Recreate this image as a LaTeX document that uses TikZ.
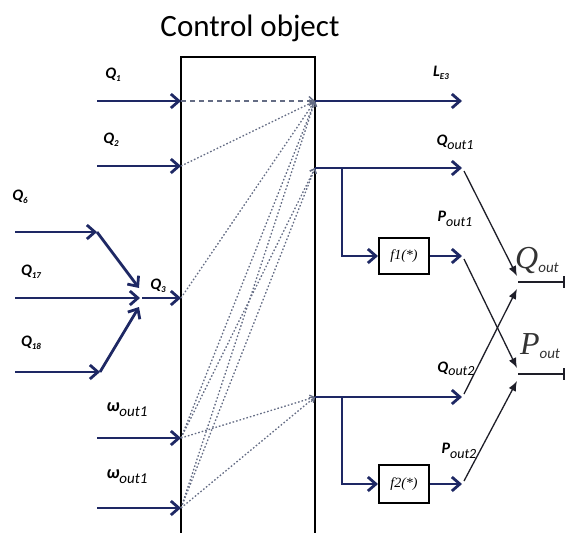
\documentclass[tikz,border=0pt]{standalone}
\usepackage{fontspec}
\setmainfont{Liberation Serif}
\newfontfamily\calfont{Carlito}
\usetikzlibrary{arrows.meta,calc}
\definecolor{navy}{RGB}{30,40,100}
\definecolor{dotc}{RGB}{100,108,132}
\definecolor{thinc}{RGB}{30,30,40}
\newcommand\sublab[2]{#1\raisebox{-0.35ex}{\fontsize{9}{9}\selectfont #2}}
\tikzset{
  mainarrow/.style={draw=navy, line width=2.8pt, -{Straight Barb[length=8pt,width=14pt,line width=2.8pt]}},
  dotlink/.style={draw=dotc, line width=1.3pt, dash pattern=on 1.6pt off 2pt, -{Straight Barb[length=4pt,width=7pt,line width=1.2pt]}},
  dashlink/.style={draw=dotc, line width=1.7pt, dash pattern=on 5pt off 4pt, -{Straight Barb[length=5pt,width=9pt,line width=1.4pt]}},
  thinarrow/.style={draw=thinc, line width=1.3pt, -{Latex[length=10pt,width=8pt]}},
  outline/.style={draw=thinc, line width=2.2pt, -{Bar[width=12pt,line width=2.2pt]}},
  qlab/.style={font=\calfont\bfseries\itshape\fontsize{16}{16}\selectfont, text=black, inner sep=0pt},
  olab/.style={font=\calfont\bfseries\itshape\fontsize{18}{18}\selectfont, text=black, inner sep=0pt},
  biglab/.style={font=\itshape\fontsize{32}{32}\selectfont, text=black!80, inner sep=0pt},
  fbox/.style={draw=black, line width=2pt, minimum width=50pt, minimum height=36pt, inner sep=0pt, font=\itshape\fontsize{14}{14}\selectfont},
}
\begin{document}
\begin{tikzpicture}[x=1pt,y=-1pt]
\useasboundingbox (0,0) rectangle (566,533);
% title and object box
\node[font=\calfont\fontsize{31}{31}\selectfont] (title) at (250,28) {Control object};
\draw[line width=2.2pt, black] (181,540) -- (181,57) -- (315,57) -- (315,540);
% left coordinates
\coordinate (q1s) at (97,101);  \coordinate (q1e) at (181,101);
\coordinate (q2s) at (97,166);  \coordinate (q2e) at (181,166);
\coordinate (q6s) at (15,232);  \coordinate (q6k) at (97,232);
\coordinate (q17s) at (15,298);
\coordinate (q18s) at (15,372); \coordinate (q18k) at (100,372);
\coordinate (jn) at (140,298);
\coordinate (q3s) at (142,298); \coordinate (q3e) at (181,298);
\coordinate (w1s) at (97,438);  \coordinate (w1e) at (181,438);
\coordinate (w2s) at (97,508);  \coordinate (w2e) at (181,508);
% right coordinates
\coordinate (le3s) at (315,101); \coordinate (le3e) at (462,101);
\coordinate (qo1s) at (315,168); \coordinate (qo1e) at (462,168);
\coordinate (b1) at (342,168);   \coordinate (b1d) at (342,256);
\coordinate (qo2s) at (315,397); \coordinate (qo2e) at (462,397);
\coordinate (b2) at (342,397);   \coordinate (b2d) at (342,484);
\node[fbox] (f1) at (404,256) {f1(*)};
\node[fbox, minimum height=38pt] (f2) at (404,484) {f2(*)};
\coordinate (p1e) at (462,256);
\coordinate (p2e) at (462,484);
\coordinate (qoj) at (518,282); \coordinate (qoend) at (565,282);
\coordinate (poj) at (518,374); \coordinate (poend) at (565,374);
% left arrows
\draw[mainarrow] (q1s) -- (q1e);
\draw[mainarrow] (q2s) -- (q2e);
\draw[mainarrow] (q6s) -- (q6k);
\draw[mainarrow] (q6k) -- ($(jn)+(-1,-10)$);
\draw[mainarrow] (q17s) -- (jn);
\draw[mainarrow] (q18s) -- (q18k);
\draw[mainarrow] (q18k) -- ($(jn)+(-1,9)$);
\draw[mainarrow] (q3s) -- (q3e);
\draw[mainarrow] (w1s) -- (w1e);
\draw[mainarrow] (w2s) -- (w2e);
% internal links
\draw[dashlink] (q1e) -- (le3s);
\draw[dotlink] (q2e) -- (le3s);
\draw[dotlink] (q3e) -- (le3s);
\draw[dotlink] (w1e) -- (le3s);
\draw[dotlink] (w2e) -- (le3s);
\draw[dotlink] (w1e) -- (qo1s);
\draw[dotlink] (w2e) -- (qo1s);
\draw[dotlink] (w1e) -- (qo2s);
\draw[dotlink] (w2e) -- (qo2s);
% right arrows
\draw[mainarrow] (le3s) -- (le3e);
\draw[mainarrow] (qo1s) -- (qo1e);
\draw[mainarrow] (b1) -- (b1d) -- (f1.west);
\draw[mainarrow] (f1.east) -- (p1e);
\draw[mainarrow] (qo2s) -- (qo2e);
\draw[mainarrow] (b2) -- (b2d) -- (f2.west);
\draw[mainarrow] (f2.east) -- (p2e);
% crossing thin lines
\draw[thinarrow] ($(qo1e)+(2,3)$) -- ($(qoj)+(-1,-6)$);
\draw[thinarrow] ($(qo2e)+(2,-3)$) -- ($(qoj)+(-1,7)$);
\draw[thinarrow] ($(p1e)+(2,3)$) -- ($(poj)+(-1,-6)$);
\draw[thinarrow] ($(p2e)+(2,-3)$) -- ($(poj)+(-1,7)$);
\draw[outline] (qoj) -- (qoend);
\draw[outline] (poj) -- (poend);
% labels
\node[qlab] (lq1) at (113,75) {\sublab{Q}{1}};
\node[qlab] (lq2) at (111,140) {\sublab{Q}{2}};
\node[qlab] (lq6) at (20,197) {\sublab{Q}{6}};
\node[qlab] (lq17) at (31,272) {\sublab{Q}{17}};
\node[qlab] (lq18) at (31,343) {\sublab{Q}{18}};
\node[qlab] (lq3) at (158,286) {\sublab{Q}{3}};
\node[olab] (lw1) at (127,410) {ω\raisebox{-0.6ex}{\fontsize{15}{15}\selectfont\mdseries out1}};
\node[olab] (lw2) at (127,477) {ω\raisebox{-0.6ex}{\fontsize{15}{15}\selectfont\mdseries out1}};
\node[qlab] (lle3) at (441,73) {\sublab{L}{E3}};
\node[qlab] (lqo1) at (455,142) {Q\raisebox{-0.5ex}{\fontsize{14}{14}\selectfont\mdseries out1}};
\node[qlab] (lpo1) at (455,219) {P\raisebox{-0.7ex}{\fontsize{14}{14}\selectfont\mdseries out1}};
\node[qlab] (lqo2) at (456,369) {Q\raisebox{-0.4ex}{\fontsize{14}{14}\selectfont\mdseries out2}};
\node[qlab] (lpo2) at (459,451) {P\raisebox{-0.7ex}{\fontsize{14}{14}\selectfont\mdseries out2}};
\node[biglab] (lqo) at (537,260) {Q\raisebox{-0.3ex}{\calfont\fontsize{15}{15}\selectfont out}};
\node[biglab] (lpo) at (540,346) {P\raisebox{-0.3ex}{\calfont\fontsize{15}{15}\selectfont out}};
\end{tikzpicture}
\end{document}
